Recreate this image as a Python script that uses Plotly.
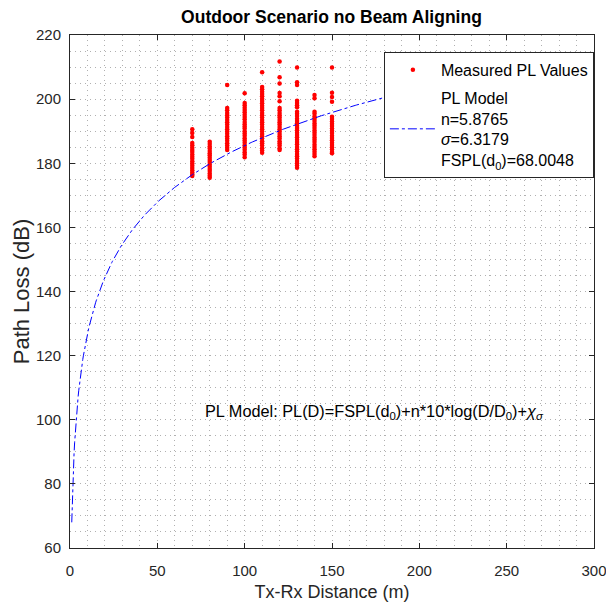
import numpy as np
import plotly.graph_objects as go

# ---- data ----
distances = [70, 80, 90, 100, 110, 120, 130, 140, 150]
pl_70 = [190.6, 189.4, 188.2, 186.3, 185.6, 184.8, 184.1, 183.5, 182.7, 182.0, 181.4, 180.6,
         179.9, 179.2, 178.5, 177.8, 177.1, 176.5, 176.0]
pl_80 = [186.7, 186.0, 185.2, 184.6, 183.8, 183.1, 182.5, 181.7, 181.0, 180.4, 179.6, 178.9,
         178.2, 177.6, 176.8, 176.1, 175.5]
pl_90 = [204.4, 197.2, 196.5, 195.7, 195.0, 194.3, 193.5, 192.8, 192.1, 191.3, 190.6, 189.9,
         189.2, 188.4, 187.7, 187.0, 186.2, 185.5, 184.8, 184.1]
pl_100 = [201.8, 198.8, 198.1, 197.3, 196.6, 195.9, 195.1, 194.4, 193.7, 192.9, 192.2, 191.5,
          190.8, 190.0, 189.3, 188.6, 187.8, 187.1, 186.4, 185.6, 184.9, 184.2, 183.4, 182.7, 181.9]
pl_110 = [208.4, 203.8, 203.1, 202.3, 201.6, 200.9, 200.1, 199.4, 198.7, 197.9, 197.2, 196.5,
          195.7, 195.0, 194.3, 193.5, 192.8, 192.1, 191.3, 190.6, 189.9, 189.1, 188.4, 187.7,
          186.9, 186.2, 185.5, 184.7, 184.0, 183.3]
pl_120 = [211.7, 206.8, 204.9, 201.9, 200.9, 199.3, 197.2, 196.5, 195.7, 195.0, 194.3, 193.5,
          192.8, 192.1, 191.3, 190.6, 189.9, 189.1, 188.4, 187.7, 186.9, 186.2, 185.5, 184.7, 184.1]
pl_130 = [209.9, 205.3, 204.4, 199.5, 198.8, 198.1, 197.5, 196.1, 195.4, 194.7, 193.9, 193.2,
          192.5, 191.7, 191.0, 190.3, 189.5, 188.8, 188.1, 187.3, 186.6, 185.9, 185.1, 184.4,
          183.7, 182.9, 182.2, 181.5, 180.7, 180.0, 179.3, 178.6]
pl_140 = [201.3, 200.3, 196.1, 195.4, 194.6, 193.9, 193.2, 192.4, 191.7, 191.0, 190.2, 189.5,
          188.8, 188.0, 187.3, 186.6, 185.8, 185.1, 184.4, 183.6, 182.9, 182.2]
pl_150 = [209.9, 202.0, 200.7, 199.2, 194.5, 193.8, 193.0, 192.3, 191.6, 190.8, 190.1, 189.4,
          188.6, 187.9, 187.2, 186.4, 185.7, 185.0, 184.3, 183.5, 183.1]
pl_columns = [pl_70, pl_80, pl_90, pl_100, pl_110, pl_120, pl_130, pl_140, pl_150]

# PL model parameters (from legend)
n_exp = 5.8765
sigma = 6.3179
fspl_d0 = 68.0048
d0 = 1.0

# ---- build ----
meas_x, meas_y = [], []
for d, col in zip(distances, pl_columns):
    meas_x += [d] * len(col)
    meas_y += col

model_d = np.linspace(1, 300, 900)
model_pl = fspl_d0 + n_exp * 10 * np.log10(model_d / d0)

FONT = "Liberation Sans, Arial, Helvetica, sans-serif"
GRID = "rgba(150,150,150,0.75)"

fig = go.Figure()
fig.add_trace(go.Scatter(
    x=meas_x, y=meas_y, mode="markers", name="Measured PL Values", legendgroup="meas",
    marker=dict(color="rgb(255,0,0)", size=4.5, line=dict(width=0)),
))
fig.add_trace(go.Scatter(
    x=model_d, y=model_pl, mode="lines", legendgroup="model",
    name=("PL Model<br>n=%.4f<br><i>σ</i>=%.4f<br>FSPL(d<sub>0</sub>)=%.4f"
          % (n_exp, sigma, fspl_d0)),
    line=dict(color="rgb(0,0,255)", width=1, dash="dashdot"),
))

fig.add_annotation(
    x=76, y=102.5, xref="x", yref="y", xanchor="left", yanchor="middle",
    text="PL Model: PL(D)=FSPL(d<sub>0</sub>)+n*10*log(D/D<sub>0</sub>)+<i>χ</i><sub><i>σ</i></sub>",
    showarrow=False, font=dict(family=FONT, size=16.3, color="black"),
)

axis_common = dict(
    showline=True, linecolor="#262626", linewidth=1, mirror="ticks",
    ticks="inside", ticklen=5, tickcolor="#262626",
    showgrid=True, gridcolor=GRID, griddash="1px,4px", gridwidth=1,
    zeroline=False, automargin=False, ticklabeloverflow="allow",
    tickfont=dict(family=FONT, size=15, color="#262626"),
)

fig.update_xaxes(
    range=[0, 300], dtick=50, tick0=0, ticklabelstandoff=9,
    title=dict(text="Tx-Rx Distance (m)", font=dict(family=FONT, size=18, color="#262626"), standoff=7),
    minor=dict(dtick=10, showgrid=True, gridcolor=GRID, griddash="1px,4px", ticks=""),
    **axis_common,
)
fig.update_yaxes(
    range=[60, 220], dtick=20, tick0=60, ticklabelstandoff=5,
    title=dict(text="Path Loss (dB)", font=dict(family=FONT, size=22, color="#262626"), standoff=0),
    minor=dict(dtick=5, showgrid=True, gridcolor=GRID, griddash="1px,4px", ticks=""),
    **axis_common,
)

fig.update_layout(
    width=606, height=611,
    margin=dict(l=70, r=12, t=35, b=63),
    paper_bgcolor="white", plot_bgcolor="white",
    title=dict(text="<b>Outdoor Scenario no Beam Aligning</b>", x=0.547, xanchor="center",
               y=0.972, yanchor="middle",
               font=dict(family=FONT, size=17.5, color="black")),
    legend=dict(
        x=0.599, y=0.967, xanchor="left", yanchor="top",
        bgcolor="white", bordercolor="#262626", borderwidth=1,
        font=dict(family=FONT, size=16, color="black"),
        valign="middle", itemwidth=46, tracegroupgap=4,
    ),
    showlegend=True,
)

fig.write_html("out.html")
